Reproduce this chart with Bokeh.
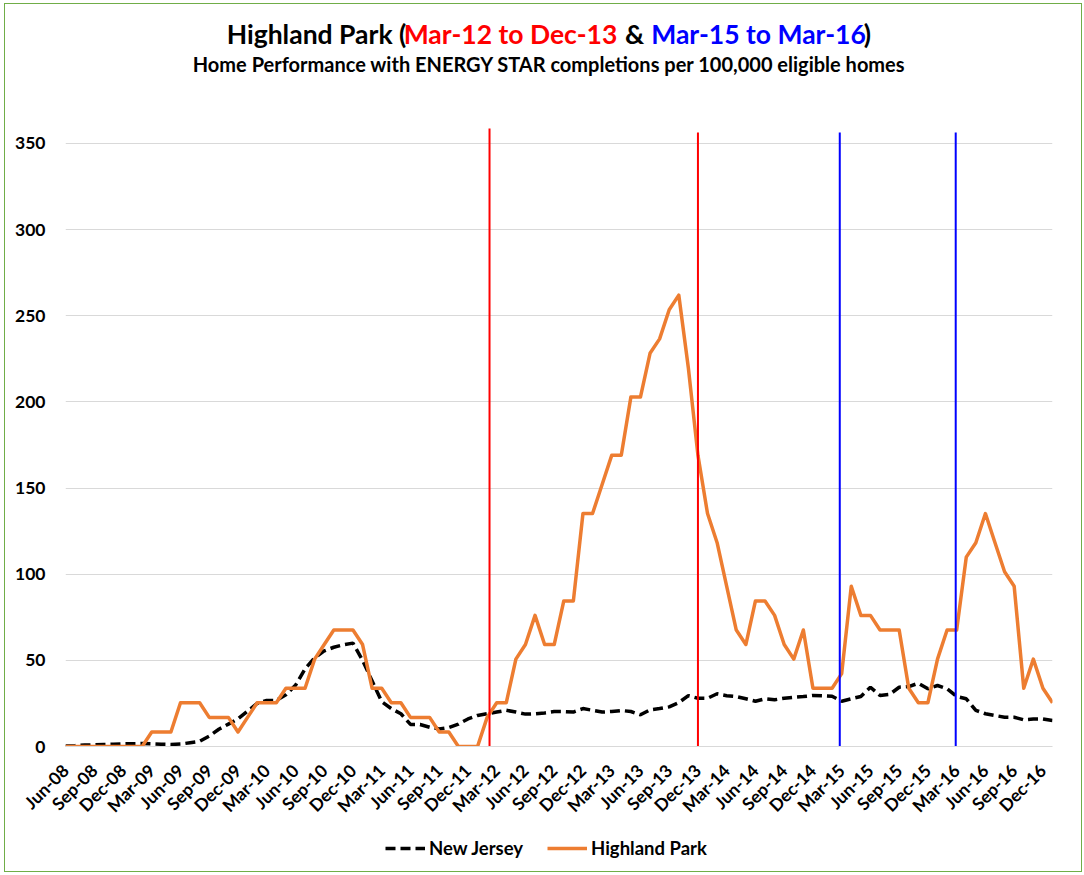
import math
from bokeh.plotting import figure
from bokeh.layouts import column
from bokeh.models import Range1d, FixedTicker, Label, Legend, LegendItem, ColumnDataSource
from bokeh.embed import file_html
from bokeh.resources import INLINE

# ---------------- data ----------------
month_names = ["Jan", "Feb", "Mar", "Apr", "May", "Jun", "Jul", "Aug", "Sep", "Oct", "Nov", "Dec"]
months = []
for k in range(104):  # Jun-08 .. Jan-17
    m = (5 + k) % 12
    y = 8 + (5 + k) // 12
    months.append(f"{month_names[m]}-{y:02d}")

tick_labels = ["Jun-08", "Sep-08", "Dec-08", "Mar-09", "Jun-09", "Sep-09", "Dec-09",
               "Mar-10", "Jun-10", "Sep-10", "Dec-10", "Mar-11", "Jun-11", "Sep-11",
               "Dec-11", "Mar-12", "Jun-12", "Sep-12", "Dec-12", "Mar-13", "Jun-13",
               "Sep-13", "Dec-13", "Mar-14", "Jun-14", "Sep-14", "Dec-14", "Mar-15",
               "Jun-15", "Sep-15", "Dec-15", "Mar-16", "Jun-16", "Sep-16", "Dec-16"]

y_ticks = [0, 50, 100, 150, 200, 250, 300, 350]

new_jersey = [0.3, 0.5, 0.8, 1.0, 1.2, 1.3, 1.5, 1.6, 1.7, 1.5,
              1.3, 1.2, 1.4, 2.2, 3.0, 6.0, 10.0, 13.0, 16.0, 20.5,
              25.0, 26.7, 26.7, 30.0, 35.5, 45.0, 51.5, 55.5, 57.6, 59.0,
              60.0, 50.0, 38.0, 26.0, 22.0, 19.0, 12.8, 12.8, 11.2, 10.2,
              11.0, 13.0, 16.0, 18.0, 19.0, 20.0, 21.0, 20.0, 18.8, 19.0,
              19.5, 20.3, 20.3, 20.0, 22.0, 21.0, 20.0, 20.3, 20.9, 20.3,
              18.4, 21.3, 22.0, 23.0, 25.5, 29.5, 28.0, 28.0, 30.6, 29.5,
              29.0, 27.7, 26.3, 27.7, 27.1, 28.0, 28.6, 29.0, 29.6, 29.4,
              29.2, 26.3, 27.7, 29.0, 34.4, 29.6, 30.2, 34.4, 34.8, 36.7,
              33.5, 35.4, 33.5, 29.0, 27.7, 21.0, 19.0, 18.0, 17.0, 17.0,
              15.5, 16.0, 16.0, 15.1]

highland_park = [0, 0, 0, 0, 0, 0, 0, 0, 0, 8.4,
                 8.4, 8.4, 25.4, 25.4, 25.4, 16.9, 16.9, 16.9, 8.4, 16.9,
                 25.4, 25.4, 25.4, 33.8, 33.8, 33.8, 50.7, 59.2, 67.6, 67.6,
                 67.6, 59.2, 33.8, 33.8, 25.4, 25.4, 16.9, 16.9, 16.9, 8.4,
                 8.4, 0, 0, 0, 16.9, 25.4, 25.4, 50.7, 59.2, 76.1,
                 59.2, 59.2, 84.5, 84.5, 135.2, 135.2, 152.1, 169.0, 169.0, 202.8,
                 202.8, 228.2, 236.6, 253.5, 262.0, 219.7, 169.0, 135.2, 118.3, 93.0,
                 67.6, 59.2, 84.5, 84.5, 76.1, 59.2, 50.7, 67.6, 33.8, 33.8,
                 33.8, 42.3, 93.0, 76.1, 76.1, 67.6, 67.6, 67.6, 33.8, 25.4,
                 25.4, 50.7, 67.6, 67.6, 109.9, 118.3, 135.2, 118.3, 101.4, 93.0,
                 33.8, 50.7, 33.8, 25.4]

# period markers (month index position, top value, colour)
marker_x = [44.25, 66.0, 80.8, 92.9]
marker_top = [358.7, 356.4, 356.4, 356.4]
marker_color = ["#FF0000", "#FF0000", "#0000FF", "#0000FF"]

# ---------------- layout ----------------
W = 1076
H_MAIN, H_LEG = 823, 44
OFF_X, OFF_Y = 5, 4            # page position of the canvas (margin + border)
FRAME_L = 65 - OFF_X           # frame left edge on the canvas
FRAME_R = W - (1052 - OFF_X)   # right border
FRAME_B = H_MAIN - (746 - OFF_Y)
PX_PER_UNIT = 1.7229           # vertical scale of the reference
X_MAX = len(months) - 1
Y_MAX = (746 - OFF_Y) / PX_PER_UNIT   # frame reaches the top of the canvas
frame_w = W - FRAME_L - FRAME_R


def px2x(px):
    return (px - OFF_X - FRAME_L) / frame_w * X_MAX


def py2y(py):
    return (746 - py) / PX_PER_UNIT


FONT = "Lato"

p = figure(width=W, height=H_MAIN, x_range=Range1d(0, X_MAX), y_range=Range1d(0, Y_MAX),
           output_backend="svg", toolbar_location=None,
           min_border_left=FRAME_L, min_border_right=FRAME_R,
           min_border_top=0, min_border_bottom=FRAME_B)
p.outline_line_color = None
p.background_fill_color = "white"
p.border_fill_color = "white"

src = ColumnDataSource(dict(x=list(range(len(months))), month=months,
                            nj=new_jersey, hp=highland_park))

NJ_STYLE = dict(line_color="black", line_width=3.5, line_dash="10 5")
HP_STYLE = dict(line_color="#ED7D31", line_width=3.5, line_join="round")

p.line("x", "nj", source=src, **NJ_STYLE)
p.line("x", "hp", source=src, **HP_STYLE)

p.segment(x0=marker_x, y0=[0] * 4, x1=marker_x, y1=marker_top,
          line_color=marker_color, line_width=2)

# axes
p.xgrid.grid_line_color = None
p.ygrid.grid_line_color = "#D9D9D9"
p.ygrid.grid_line_width = 1

p.yaxis.ticker = FixedTicker(ticks=y_ticks)
p.yaxis.axis_line_color = None
p.yaxis.major_tick_line_color = None
p.yaxis.minor_tick_line_color = None
p.yaxis.major_label_standoff = 14
p.yaxis.major_label_text_font = FONT
p.yaxis.major_label_text_font_style = "bold"
p.yaxis.major_label_text_font_size = "17.5px"
p.yaxis.major_label_text_color = "black"

tick_pos = [months.index(t) for t in tick_labels]
p.xaxis.ticker = FixedTicker(ticks=tick_pos)
p.xaxis.major_label_overrides = {i: t for i, t in zip(tick_pos, tick_labels)}
p.xaxis.major_label_orientation = math.pi / 4
p.xaxis.axis_line_color = "#D9D9D9"
p.xaxis.major_tick_line_color = None
p.xaxis.minor_tick_line_color = None
p.xaxis.major_label_standoff = 15
p.xaxis.major_label_text_font = FONT
p.xaxis.major_label_text_font_style = "bold"
p.xaxis.major_label_text_font_size = "17.5px"
p.xaxis.major_label_text_color = "black"

# title pieces
title_parts = [("Highland Park (", "black", 316), ("Mar-12 to Dec-13", "#FF0000", 510),
               ("&", "black", 634), ("Mar-15 to Mar-16", "#0000FF", 758), (")", "black", 867)]
for txt, col, cx in title_parts:
    p.add_layout(Label(x=px2x(cx), y=py2y(33.5), text=txt, text_color=col,
                       text_font=FONT, text_font_style="bold", text_font_size="26.5px",
                       text_align="center", text_baseline="alphabetic"))
p.add_layout(Label(x=px2x(549), y=py2y(63.5),
                   text="Home Performance with ENERGY STAR completions per 100,000 eligible homes",
                   text_color="black", text_font=FONT, text_font_style="bold",
                   text_font_size="20px", text_align="center", text_baseline="alphabetic"))

# legend strip below the chart
pl = figure(width=W, height=H_LEG, x_range=Range1d(0, 1), y_range=Range1d(0, 1),
            output_backend="svg", toolbar_location=None,
            min_border_left=0, min_border_right=0, min_border_top=0, min_border_bottom=0,
            x_axis_location=None, y_axis_location=None)
pl.outline_line_color = None
pl.xgrid.visible = False
pl.ygrid.visible = False
nj_key = pl.line(x=[-2, -1], y=[-2, -2], **NJ_STYLE)
hp_key = pl.line(x=[-2, -1], y=[-2, -2], **HP_STYLE)
legend = Legend(items=[LegendItem(label="New Jersey", renderers=[nj_key]),
                       LegendItem(label="Highland Park", renderers=[hp_key])],
                orientation="horizontal", location=(320, 12),
                border_line_color=None, background_fill_alpha=0,
                label_text_font=FONT, label_text_font_style="bold",
                label_text_font_size="18.5px", label_text_color="black",
                glyph_width=40, glyph_height=20, label_standoff=4, spacing=24,
                padding=0, margin=0)
pl.add_layout(legend, "center")

layout = column(p, pl, spacing=0, margin=(3, 0, 0, 4),
                styles={"border": "1px solid #70AD47"})
open("out.html", "w").write(file_html(layout, INLINE))
